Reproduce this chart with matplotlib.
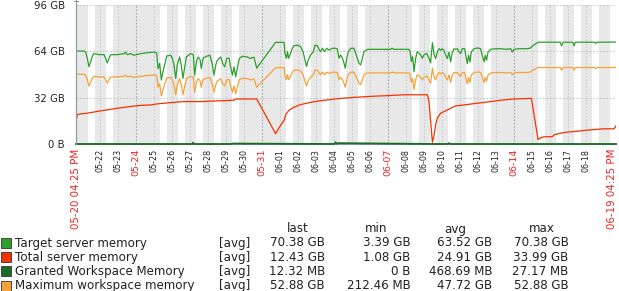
import datetime as dt
import numpy as np
import matplotlib
matplotlib.use("Agg")
import matplotlib.pyplot as plt
import matplotlib.dates as mdates
from matplotlib.patches import Rectangle
from matplotlib.lines import Line2D

# time axis: days since 2020-05-20 16:25
start = dt.datetime(2020, 5, 20, 16, 25)
end = dt.datetime(2020, 6, 19, 16, 25)

target_t = [0.00, 0.44, 0.54, 0.63, 0.72, 0.81, 0.91, 1.00, 1.28, 1.56, 1.65, 1.74, 1.83, 1.93,
            2.30, 2.67, 2.76, 2.85, 3.04, 3.22, 3.59, 3.96, 4.33, 4.48, 4.56, 4.65, 4.74, 4.83,
            4.93, 5.04, 5.26, 5.37, 5.44, 5.54, 5.63, 5.76, 5.85, 5.94, 6.04, 6.13, 6.37, 6.52,
            6.59, 6.69, 6.78, 6.89, 6.96, 7.06, 7.30, 7.44, 7.56, 7.67, 7.76, 7.85, 8.04, 8.15,
            8.26, 8.37, 8.50, 8.59, 8.69, 8.78, 8.87, 8.96, 9.07, 9.24, 9.52, 9.70, 9.80, 9.89,
            10.04, 10.17, 11.09, 11.56, 11.61, 11.69, 11.75, 11.81, 11.89, 12.02, 12.11, 12.30,
            12.48, 12.61, 12.70, 12.81, 12.90, 13.04, 13.19, 13.28, 13.41, 13.52, 13.59, 13.69,
            13.81, 13.93, 14.06, 14.24, 14.43, 14.52, 14.61, 14.70, 14.80, 14.89, 14.96, 15.04,
            15.13, 15.26, 15.44, 15.54, 15.63, 15.72, 15.81, 15.91, 16.00, 16.19, 16.56, 16.93,
            17.48, 17.57, 17.67, 18.50, 18.56, 18.63, 18.70, 18.78, 18.87, 18.96, 19.15, 19.24,
            19.33, 19.48, 19.61, 19.70, 19.80, 19.89, 19.98, 20.07, 20.17, 20.26, 20.35, 20.44,
            20.54, 20.63, 20.72, 20.81, 20.91, 21.00, 21.09, 21.19, 21.28, 21.37, 21.46, 21.59,
            21.69, 21.74, 21.81, 21.89, 21.96, 22.11, 22.30, 22.48, 22.57, 22.67, 22.74, 22.81,
            22.89, 23.04, 23.31, 23.59, 23.87, 24.15, 24.24, 24.33, 24.61, 24.89, 25.07, 25.26,
            25.35, 25.67, 26.90, 26.98, 27.06, 27.60, 27.67, 27.74, 28.80, 28.87, 28.94, 30.00]

target_gb = [64.2, 64.2, 63.5, 59.0, 53.3, 56.7, 60.8, 62.4, 61.7, 61.7, 59.0, 56.0, 59.0, 61.7,
             61.7, 62.4, 63.5, 61.7, 62.4, 61.3, 62.4, 63.0, 63.5, 63.0, 52.1, 55.6, 44.2, 49.9,
             54.9, 60.8, 61.3, 58.5, 54.9, 45.3, 54.9, 60.1, 54.4, 45.3, 53.3, 60.1, 62.4, 61.7,
             47.6, 56.7, 60.1, 58.5, 52.1, 59.4, 60.8, 61.3, 55.6, 47.6, 54.4, 57.8, 60.1, 55.6,
             53.3, 59.0, 59.4, 53.3, 47.6, 53.3, 46.4, 52.1, 59.0, 60.6, 60.1, 59.0, 59.7, 59.9,
             52.3, 54.6, 70.2, 70.2, 62.6, 59.2, 63.8, 59.2, 61.5, 66.1, 67.9, 68.3,
             67.2, 63.8, 59.2, 53.5, 58.1, 61.5, 63.8, 68.3, 67.9, 64.9, 63.8, 66.1,
             63.8, 66.1, 64.9, 66.1, 66.1, 65.6, 59.2, 61.5, 59.2, 55.8, 52.3, 59.2,
             63.8, 66.1, 66.1, 62.6, 59.2, 55.8, 54.6, 59.2, 63.8, 65.4, 65.4, 65.4,
             65.4, 66.1, 65.4, 65.4, 63.8, 56.9, 60.3, 50.0, 59.2, 63.8, 61.5, 59.2,
             61.5, 62.6, 59.2, 56.0, 70.0, 62.0, 59.0, 63.5, 65.8, 64.7, 65.8, 64.7,
             61.3, 59.0, 63.5, 56.7, 63.5, 65.8, 65.4, 65.8, 63.5, 62.4, 65.8, 65.8,
             59.0, 55.5, 61.3, 56.7, 63.5, 65.8, 66.3, 65.8, 61.3, 56.7, 61.3, 57.8,
             63.5, 65.4, 65.8, 65.8, 65.4, 65.8, 63.5, 65.4, 65.8, 65.8, 65.8, 66.3,
             67.7, 70.3, 70.3, 67.8, 70.3, 70.3, 67.8, 70.3, 70.3, 69.5, 70.3, 70.38]

maxws_gb = [48.2, 48.2, 47.6, 44.3, 40.0, 42.5, 45.6, 46.8, 46.3, 46.3, 44.3, 42.0, 44.3, 46.3,
            46.3, 46.8, 47.6, 46.3, 46.8, 46.0, 46.8, 47.3, 47.6, 47.3, 39.1, 41.7, 33.2, 37.4,
            41.2, 45.6, 46.0, 43.9, 41.2, 34.0, 41.2, 45.1, 40.8, 34.0, 40.0, 45.1, 46.8, 46.3,
            35.7, 42.5, 45.1, 43.9, 39.1, 44.6, 45.6, 46.0, 41.7, 35.7, 40.8, 43.4, 45.1, 41.7,
            40.0, 44.3, 44.6, 40.0, 35.7, 40.0, 34.8, 39.1, 44.3, 45.5, 45.1, 44.3, 44.8, 44.9,
            39.2, 41.0, 52.7, 52.7, 47.0, 44.4, 47.9, 44.4, 46.1, 49.6, 50.9, 51.2,
            50.4, 47.9, 44.4, 40.1, 43.6, 46.1, 47.9, 51.2, 50.9, 48.7, 47.9, 49.6,
            47.9, 49.6, 48.7, 49.6, 49.6, 49.2, 44.4, 46.1, 44.4, 41.9, 39.2, 44.4,
            47.9, 49.6, 49.6, 47.0, 44.4, 41.9, 41.0, 44.4, 47.9, 49.1, 49.1, 49.1,
            49.1, 49.6, 49.1, 49.1, 47.9, 42.7, 45.2, 37.5, 44.4, 47.9, 46.1, 44.4,
            46.1, 47.0, 44.4, 42.0, 52.5, 46.5, 44.3, 47.6, 49.4, 48.5, 49.4, 48.5,
            46.0, 44.3, 47.6, 42.5, 47.6, 49.4, 49.1, 49.4, 47.6, 46.8, 49.4, 49.4,
            44.3, 41.6, 46.0, 42.5, 47.6, 49.4, 49.7, 49.4, 46.0, 42.5, 46.0, 43.4,
            47.6, 49.1, 49.4, 49.4, 49.1, 49.4, 47.6, 49.1, 49.4, 49.4, 49.4, 49.7,
            50.8, 52.8, 52.8, 50.9, 52.8, 52.8, 50.9, 52.8, 52.8, 52.1, 52.8, 52.88]

total_t = [0.00, 0.07, 0.17, 0.63, 1.19, 1.74, 2.30, 2.85, 3.41, 4.15, 4.52, 5.26, 6.00, 6.93,
           7.67, 8.78, 8.87, 9.98, 10.04, 11.09, 11.28, 11.46, 11.59, 11.65, 11.83, 12.11, 12.48,
           13.04, 13.59, 14.52, 15.44, 16.37, 17.30, 18.22, 19.52, 19.61, 19.80, 19.90, 19.98,
           20.07, 20.26, 20.54, 20.81, 21.09, 21.56, 22.11, 22.85, 23.59, 24.33, 25.26, 25.30,
           25.67, 25.78, 26.00, 26.46, 26.56, 26.93, 27.30, 28.04, 28.59, 29.33, 29.89, 30.00]
total_gb = [15.6, 20.2, 20.6, 21.3, 22.5, 23.6, 24.7, 25.6, 26.5, 27.0, 27.7, 28.6, 29.3, 29.3,
            29.7, 30.2, 31.1, 31.1, 31.1, 7.1, 11.2, 14.6, 16.9, 20.3, 23.3, 25.4, 27.2,
            28.8, 29.9, 31.3, 32.2, 32.9, 33.4, 34.0, 34.0, 29.5, 1.1, 6.6, 13.3,
            17.8, 21.3, 22.9, 24.7, 26.3, 27.0, 27.9, 29.0, 30.2, 31.1, 31.5, 31.5,
            3.0, 4.1, 5.0, 5.0, 6.4, 7.5, 8.2, 9.1, 9.8, 10.5, 10.5, 12.43]

granted_t = [0.0, 6.45, 6.50, 6.55, 8.6, 8.7, 14.35, 14.42, 14.50, 14.58, 19.8, 20.65, 20.72,
             20.80, 30.0]
granted_gb = [0.01, 0.01, 0.9, 0.01, 0.01, 0.3, 0.01, 1.2, 0.2, 0.6, 0.01, 0.01, 0.6, 0.01, 0.01]

y_ticks = [0, 32, 64, 96]
y_labels = ["0 B", "32 GB", "64 GB", "96 GB"]

legend_names = ["Target server memory", "Total server memory",
                "Granted Workspace Memory", "Maximum workspace memory"]
legend_colors = ["#2ca02c", "#f63100", "#1a6b26", "#f7a238"]
legend_last = ["70.38 GB", "12.43 GB", "12.32 MB", "52.88 GB"]
legend_min = ["3.39 GB", "1.08 GB", "0 B", "212.46 MB"]
legend_avg = ["63.52 GB", "24.91 GB", "468.69 MB", "47.72 GB"]
legend_max = ["70.38 GB", "33.99 GB", "27.17 MB", "52.88 GB"]

W, H = 619, 291
fig = plt.figure(figsize=(W / 100, H / 100), dpi=100)
ax = fig.add_axes([76 / W, 1 - 144 / H, 540 / W, 139 / H])

x0 = mdates.date2num(start)
x1 = mdates.date2num(end)

def xs(tlist):
    return x0 + np.asarray(tlist)

# non-working time in grey, working hours (Mon-Fri 08-18) in white
ax.set_facecolor("#e8e8e8")
day = dt.datetime(2020, 5, 20)
while day <= end:
    if day.weekday() < 5:
        a = max(day + dt.timedelta(hours=8), start)
        b = min(day + dt.timedelta(hours=18), end)
        if b > a:
            ax.axvspan(mdates.date2num(a), mdates.date2num(b), color="white", lw=0, zorder=0)
    day += dt.timedelta(days=1)

# grid
for yv in [32, 64, 96]:
    ax.axhline(yv, color="#c3c9cf", lw=0.8, dashes=(1.5, 1.5), zorder=1)

tick_days = []
day = dt.datetime(2020, 5, 22)
while day <= dt.datetime(2020, 6, 18):
    tick_days.append(day)
    day += dt.timedelta(days=1)

for d in tick_days:
    sunday = d.weekday() == 6
    ax.axvline(mdates.date2num(d), color="#9eadb5" if sunday else "#c8cdd2",
               lw=0.8, dashes=(1.5, 1.5), zorder=1)
ax.axvline(x1, color="#c8cdd2", lw=0.8, dashes=(1.5, 1.5), zorder=1)

# series
ax.plot(xs(target_t), target_gb, color="#2ca02c", lw=0.9, zorder=3)
ax.plot(xs(total_t), total_gb, color="#f63100", lw=0.9, zorder=3)
ax.plot(xs(granted_t), granted_gb, color="#1a6b26", lw=1.3, zorder=6, clip_on=False)
ax.plot(xs(target_t), maxws_gb, color="#f7a238", lw=0.9, zorder=3)

ax.set_xlim(x0, x1)
ax.set_ylim(0, 96)
for s in ["top", "right"]:
    ax.spines[s].set_visible(False)
ax.spines["left"].set_color("#8c9ba5")
ax.spines["bottom"].set_color("#8c9ba5")
ax.set_xticks([])
ax.set_yticks(y_ticks)
ax.set_yticklabels(y_labels, fontsize=7.3, color="#222222")
ax.tick_params(axis="y", length=0, pad=8)

# axis stub above plot
fig.add_artist(Line2D([76 / W, 76 / W], [1 - 144 / H, 1 - 0 / H], color="#8c9ba5", lw=0.8))
fig.add_artist(Line2D([74 / W, 78 / W], [1 - 1 / H, 1 - 1 / H], color="#8c9ba5", lw=0.8))

# date labels
trans = ax.get_xaxis_transform()
for d in tick_days:
    sunday = d.weekday() == 6
    ax.text(mdates.date2num(d), -0.035, d.strftime("%m-%d"), rotation=90,
            ha="center", va="top", transform=trans,
            fontsize=6.8 if sunday else 5.8,
            color="#ee2222" if sunday else "#222222")
ax.text(x0, -0.035, "05-20 04:25 PM", rotation=90, ha="center", va="top",
        transform=trans, fontsize=7.4, color="#ee2222")
ax.text(x1 + 0.05, -0.035, "06-19 04:25 PM", rotation=90, ha="right", va="top",
        transform=trans, fontsize=7.4, color="#ee2222")

# legend table
fs = 8.6
def fy(py):
    return 1 - py / H

fig.text(298 / W, fy(229), "last", ha="center", va="center", fontsize=fs, color="#222222")
fig.text(376 / W, fy(229), "min", ha="center", va="center", fontsize=fs, color="#222222")
fig.text(455 / W, fy(229), "avg", ha="center", va="center", fontsize=fs, color="#222222")
fig.text(542 / W, fy(229), "max", ha="center", va="center", fontsize=fs, color="#222222")

for i, name in enumerate(legend_names):
    yc = 243 + i * 14.2
    fig.add_artist(Rectangle((1 / W, fy(yc + 5)), 10 / W, 10 / H,
                             facecolor=legend_colors[i], edgecolor="#333333", lw=0.6,
                             transform=fig.transFigure))
    fig.text(15 / W, fy(yc), name, ha="left", va="center", fontsize=fs, color="#222222")
    fig.text(219 / W, fy(yc), "[avg]", ha="left", va="center", fontsize=fs, color="#222222")
    fig.text(325 / W, fy(yc), legend_last[i], ha="right", va="center", fontsize=fs, color="#222222")
    fig.text(410.5 / W, fy(yc), legend_min[i], ha="right", va="center", fontsize=fs, color="#222222")
    fig.text(492.5 / W, fy(yc), legend_avg[i], ha="right", va="center", fontsize=fs, color="#222222")
    fig.text(568.5 / W, fy(yc), legend_max[i], ha="right", va="center", fontsize=fs, color="#222222")

fig.savefig("out.png", dpi=100)
